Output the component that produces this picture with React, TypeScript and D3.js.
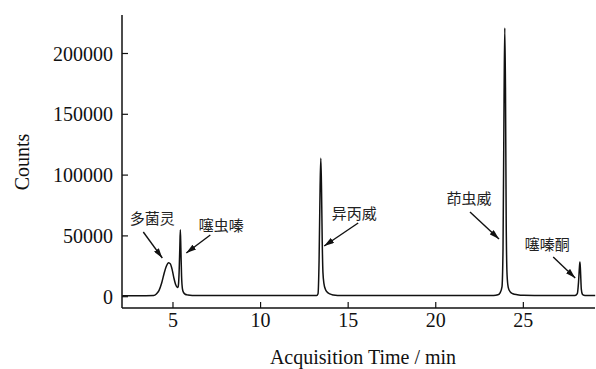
import React from 'react';
import * as d3 from 'd3';

// chromatogram trace (time in min, counts)
const times = [
  2.1, 3.0, 3.9, 4.05, 4.2, 4.35, 4.5, 4.62, 4.75, 4.85, 4.95, 5.05, 5.15, 5.25, 5.3,
  5.35, 5.39, 5.42, 5.45, 5.49, 5.54, 5.6, 5.7, 5.85, 6.1, 7.0, 9.0, 11.0, 12.5, 13.2,
  13.28, 13.34, 13.4, 13.44, 13.48, 13.52, 13.56, 13.62, 13.7, 13.8, 13.95, 14.15, 14.4,
  16.0, 18.0, 20.0, 22.0, 23.3, 23.55, 23.68, 23.78, 23.84, 23.9, 23.94, 23.98, 24.02,
  24.07, 24.14, 24.25, 24.4, 24.65, 25.0, 26.0, 27.0, 27.95, 28.08, 28.15, 28.2, 28.23,
  28.26, 28.31, 28.37, 28.45, 28.6, 29.1,
];
const counts = [
  800, 800, 1000, 2200, 5000, 11000, 19500, 25000, 28000, 27000, 22500, 15500, 10000, 7600, 8500,
  20000, 40000, 55000, 40000, 17000, 6500, 3500, 2000, 1400, 1000, 900, 900, 900, 900, 1000,
  2500, 30000, 92000, 113800, 88000, 45000, 20000, 10500, 6200, 3800, 2300, 1400, 1000,
  900, 900, 900, 900, 1000, 1600, 3400, 8000, 40000, 165000, 221000, 172000, 64000,
  18000, 7500, 4000, 2400, 1600, 1100, 1000, 1000, 1000, 2500, 12000, 24000, 28500,
  22000, 6000, 2000, 1200, 1000, 1000,
];

// compound names and where their arrows point (time, counts)
const compounds = ['多菌灵', '噻虫嗪', '异丙威', '茚虫威', '噻嗪酮'];
const arrowTimes = [4.39, 5.76, 13.63, 23.61, 27.96];
const arrowCounts = [31800, 35900, 41700, 47400, 15400];

const xTicks = [5, 10, 15, 20, 25];
const yTicks = [0, 50000, 100000, 150000, 200000];

// pixel offsets from arrow tip: tail and label centre
const labelLayout = [
  { tail: [-19, -26], label: [-10, -39] },
  { tail: [24, -18], label: [35, -27] },
  { tail: [34, -23], label: [30, -32] },
  { tail: [-29, -27], label: [-30, -40] },
  { tail: [-22, -21], label: [-28, -33] },
];

export default function App() {
  const width = 596;
  const height = 369;
  const left = 122;
  const right = 595;
  const top = 15;
  const bottom = 308;

  const x = d3.scaleLinear().domain([2.09, 29.09]).range([left, right]);
  const y = d3.scaleLinear().domain([0, 200000]).range([296.7, 53.5]);

  const line = d3.line<number>()
    .x((_, i) => x(times[i]))
    .y((d) => y(d))
    .curve(d3.curveMonotoneX);

  const serif = '"Liberation Serif", "Times New Roman", serif';
  const cjk = '"Noto Sans CJK SC", sans-serif';

  return (
    <svg
      width={width}
      height={height}
      style={{ position: 'absolute', left: 0, top: 0, background: '#fff' }}
    >
      <defs>
        <marker id="head" viewBox="0 0 10 6" refX="10" refY="3" markerWidth="10" markerHeight="6"
          markerUnits="userSpaceOnUse" orient="auto">
          <path d="M0,0 L10,3 L0,6 Z" fill="#111" />
        </marker>
      </defs>

      {/* axes */}
      <line x1={left} x2={left} y1={top} y2={bottom} stroke="#111" strokeWidth={1.5} />
      <line x1={left} x2={right} y1={bottom} y2={bottom} stroke="#111" strokeWidth={1.5} />

      {yTicks.map((t) => (
        <g key={t}>
          <line x1={left} x2={left + 6} y1={y(t)} y2={y(t)} stroke="#111" strokeWidth={1.2} />
          <text x={left - 9} y={y(t)} dy="0.35em" textAnchor="end" fontFamily={serif} fontSize={20} fill="#111">
            {t}
          </text>
        </g>
      ))}
      {xTicks.map((t) => (
        <g key={t}>
          <line x1={x(t)} x2={x(t)} y1={bottom} y2={bottom - 6} stroke="#111" strokeWidth={1.2} />
          <text x={x(t)} y={327} textAnchor="middle" fontFamily={serif} fontSize={20} fill="#111">
            {t}
          </text>
        </g>
      ))}

      <text x={363} y={364} textAnchor="middle" fontFamily={serif} fontSize={20} fill="#111">
        Acquisition Time / min
      </text>
      <text transform="translate(29,162) rotate(-90)" textAnchor="middle" fontFamily={serif} fontSize={20} fill="#111">
        Counts
      </text>

      {/* trace */}
      <path d={line(counts) || ''} fill="none" stroke="#111" strokeWidth={1.5} strokeLinejoin="round" />

      {/* annotations */}
      {compounds.map((name, i) => {
        const tx = x(arrowTimes[i]);
        const ty = y(arrowCounts[i]);
        const l = labelLayout[i];
        return (
          <g key={name}>
            <line x1={tx + l.tail[0]} y1={ty + l.tail[1]} x2={tx} y2={ty}
              stroke="#111" strokeWidth={1.4} markerEnd="url(#head)" />
            <text x={tx + l.label[0]} y={ty + l.label[1]} dy="0.36em" textAnchor="middle"
              fontFamily={cjk} fontSize={15} fill="#222">
              {name}
            </text>
          </g>
        );
      })}
    </svg>
  );
}
